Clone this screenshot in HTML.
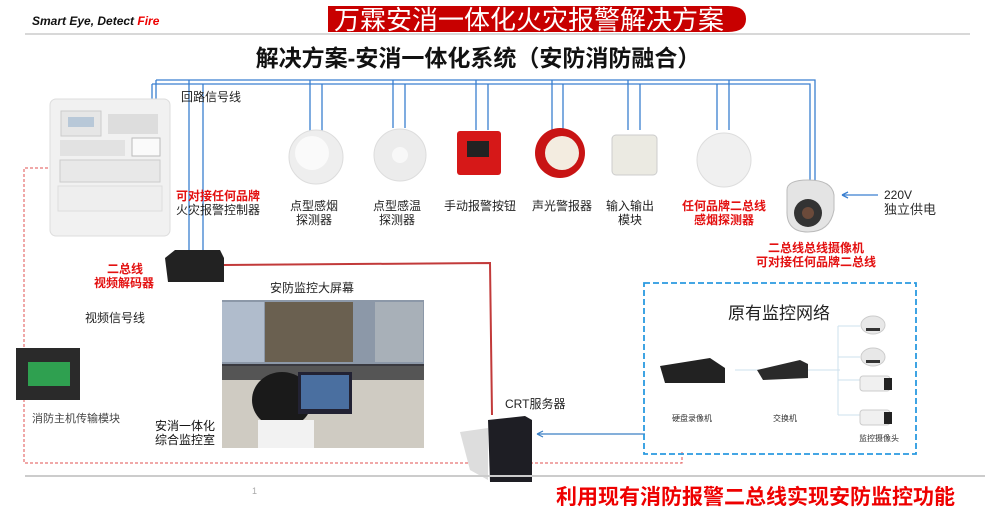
<!DOCTYPE html>
<html><head><meta charset="utf-8"><style>
html,body{margin:0;padding:0;background:#fff;}
svg{display:block;}
text{font-family:"Liberation Sans","Noto Sans CJK SC",sans-serif;}
</style></head><body>
<svg width="1000" height="517" viewBox="0 0 1000 517" xmlns="http://www.w3.org/2000/svg">
<text x="32" y="25" font-size="12" font-weight="bold" font-style="italic" fill="#111">Smart Eye, Detect <tspan fill="#e00">Fire</tspan></text>
<path d="M328 6 H728 Q746 6 746 19 Q746 32 728 32 H328 Z" fill="#c80000"/>
<text x="334" y="29" font-size="26" fill="#fff">万霖安消一体化火灾报警解决方案</text>
<line x1="25" y1="34" x2="970" y2="34" stroke="#ccc" stroke-width="1.5"/>
<text x="478" y="66" font-size="23" font-weight="bold" fill="#111" text-anchor="middle">解决方案-安消一体化系统（安防消防融合）</text>

<g stroke="#3a7fd0" stroke-width="1.3" fill="none">
<path d="M156 80 H815 V182"/>
<path d="M152 84 H810 V182"/>
<path d="M156 80 V100 M152 84 V100"/>
<path d="M189 80 V260 M203 84 V260"/>
<path d="M310 80 V135 M322 84 V135"/>
<path d="M393 80 V128 M405 84 V128"/>
<path d="M476 80 V130 M488 84 V130"/>
<path d="M552 80 V130 M563 84 V130"/>
<path d="M628 80 V130 M640 84 V130"/>
<path d="M717 84 V130 M729 80 V130"/>
<path d="M878 195 H842"/>
<path d="M842 195 l6 -3 M842 195 l6 3"/>
</g>
<text x="181" y="101" font-size="12" fill="#222">回路信号线</text>

<rect x="50" y="99" width="120" height="137" rx="6" fill="#f1f1f1" stroke="#ddd"/>
<rect x="61" y="111" width="40" height="25" fill="#e6e6e6" stroke="#ccc"/>
<rect x="68" y="117" width="26" height="10" fill="#b8c8d8"/>
<rect x="108" y="114" width="50" height="20" fill="#ddd"/>
<rect x="132" y="138" width="28" height="18" fill="#fafafa" stroke="#bbb"/>
<rect x="60" y="140" width="65" height="16" fill="#e2e2e2"/>
<rect x="60" y="160" width="100" height="22" fill="#e8e8e8" stroke="#ccc"/>
<rect x="58" y="186" width="104" height="25" fill="#eee" stroke="#ddd"/>

<circle cx="316" cy="157" r="27" fill="#eee" stroke="#ddd"/><circle cx="312" cy="153" r="17" fill="#fafafa"/>
<circle cx="400" cy="155" r="26" fill="#ececec" stroke="#ddd"/><circle cx="400" cy="155" r="8" fill="#f8f8f8"/>
<rect x="457" y="131" width="44" height="44" rx="3" fill="#d61818"/><rect x="467" y="141" width="22" height="16" fill="#222"/>
<circle cx="560" cy="153" r="25" fill="#c81414"/><circle cx="562" cy="153" r="17" fill="#f3ece0"/>
<rect x="612" y="135" width="45" height="40" rx="4" fill="#ebeae2" stroke="#ccc"/>
<circle cx="724" cy="160" r="27" fill="#f0f0f0" stroke="#ddd"/>
<path d="M787 190 Q787 180 808 180 Q832 180 834 195 L834 210 Q830 232 808 232 Q786 232 787 210 Z" fill="#e4e4e4" stroke="#bbb"/>
<circle cx="808" cy="213" r="14" fill="#333"/><circle cx="808" cy="213" r="6" fill="#6b4a3a"/>

<g font-size="12" fill="#222" text-anchor="middle">
<text x="314" y="210">点型感烟</text><text x="314" y="224">探测器</text>
<text x="397" y="210">点型感温</text><text x="397" y="224">探测器</text>
<text x="480" y="210">手动报警按钮</text>
<text x="562" y="210">声光警报器</text>
<text x="630" y="210">输入输出</text><text x="630" y="224">模块</text>
</g>
<g font-size="12" font-weight="bold" fill="#e31010" text-anchor="middle">
<text x="724" y="210">任何品牌二总线</text><text x="724" y="224">感烟探测器</text>
<text x="816" y="252">二总线总线摄像机</text><text x="816" y="266">可对接任何品牌二总线</text>
<text x="218" y="200">可对接任何品牌</text>
<text x="125" y="273">二总线</text><text x="124" y="287">视频解码器</text>
</g>
<text x="218" y="214" font-size="12" fill="#222" text-anchor="middle">火灾报警控制器</text>
<text x="884" y="199" font-size="12" fill="#222">220V</text>
<text x="884" y="214" font-size="13" fill="#333" font-family="Liberation Serif,Noto Serif CJK SC,serif">独立供电</text>

<path d="M165 258 L175 250 L220 250 L224 258 L224 282 L168 282 Z" fill="#222"/>
<path d="M224 265 L490 263 L492 415" stroke="#c23a3a" stroke-width="2" fill="none"/>
<path d="M48 168 H24 V463 H682 V452" stroke="#e05050" stroke-width="1" stroke-dasharray="3 2" fill="none"/>

<text x="85" y="322" font-size="12" fill="#222">视频信号线</text>
<rect x="16" y="348" width="64" height="52" fill="#2a2a2a"/>
<rect x="28" y="362" width="42" height="24" fill="#2fa050"/>
<text x="32" y="422" font-size="11" fill="#444" font-family="Liberation Serif,Noto Serif CJK SC,serif">消防主机传输模块</text>

<text x="270" y="292" font-size="12" fill="#222">安防监控大屏幕</text>
<rect x="222" y="300" width="202" height="148" fill="#3a3a40"/>
<rect x="222" y="300" width="202" height="64" fill="#8c98a8"/>
<rect x="222" y="302" width="42" height="60" fill="#b0bccc"/>
<rect x="375" y="302" width="48" height="60" fill="#a8b0b8"/>
<rect x="265" y="302" width="88" height="60" fill="#6a6050"/>
<rect x="222" y="366" width="202" height="82" fill="#cfcbc2"/>
<rect x="222" y="366" width="202" height="14" fill="#555"/>
<ellipse cx="282" cy="400" rx="30" ry="28" fill="#1a1a1a"/>
<rect x="258" y="420" width="56" height="28" fill="#f2f2f2"/>
<rect x="298" y="372" width="54" height="42" fill="#223"/>
<rect x="301" y="375" width="48" height="34" fill="#4a6fa0"/>
<text x="155" y="430" font-size="12" fill="#111">安消一体化</text>
<text x="155" y="444" font-size="12" fill="#111">综合监控室</text>

<text x="505" y="408" font-size="12" fill="#222">CRT服务器</text>
<path d="M460 432 L488 428 L488 480 L470 470 Z" fill="#ddd"/>
<path d="M488 420 L525 416 L532 420 L532 482 L490 482 Z" fill="#1e1e24"/>
<g stroke="#3b7fc4" stroke-width="1.2" fill="none"><path d="M645 434 H537 M537 434 l6 -3 M537 434 l6 3"/></g>

<rect x="644" y="283" width="272" height="171" fill="none" stroke="#2a9ae0" stroke-width="1.8" stroke-dasharray="6 3"/>
<text x="728" y="319" font-size="17" fill="#222">原有监控网络</text>
<g stroke="#cde0ee" fill="none"><path d="M735 370 H840 M838 326 V415 M838 326 H860 M838 357 H860 M838 380 H860 M838 415 H860"/></g>
<path d="M660 366 L710 358 L725 368 L725 383 L665 383 Z" fill="#222"/>
<path d="M757 370 L800 360 L808 364 L808 378 L763 380 Z" fill="#2a2a2a"/>
<ellipse cx="873" cy="325" rx="12" ry="9" fill="#e8e8e8" stroke="#ccc"/><rect x="866" y="328" width="14" height="3" fill="#333"/>
<ellipse cx="873" cy="357" rx="12" ry="9" fill="#e8e8e8" stroke="#ccc"/><rect x="866" y="360" width="14" height="3" fill="#333"/>
<rect x="860" y="376" width="30" height="15" rx="3" fill="#f0f0f0" stroke="#ccc"/><rect x="884" y="378" width="8" height="12" fill="#222"/>
<rect x="860" y="410" width="30" height="15" rx="3" fill="#f0f0f0" stroke="#ccc"/><rect x="884" y="412" width="8" height="12" fill="#222"/>
<g font-size="8" fill="#333" text-anchor="middle">
<text x="692" y="421">硬盘录像机</text><text x="785" y="421">交换机</text><text x="879" y="441">监控摄像头</text>
</g>

<line x1="25" y1="476" x2="985" y2="476" stroke="#ccc" stroke-width="2"/>
<text x="252" y="494" font-size="9" fill="#aaa">1</text>
<text x="955" y="504" font-size="21" font-weight="bold" fill="#e00" text-anchor="end">利用现有消防报警二总线实现安防监控功能</text>
</svg>
</body></html>
